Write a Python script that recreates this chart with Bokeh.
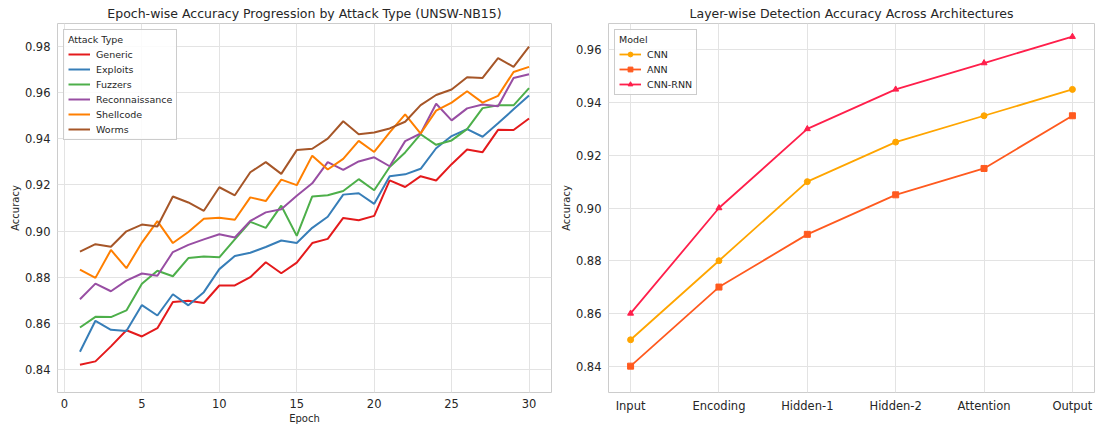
from bokeh.plotting import figure
from bokeh.layouts import row
from bokeh.models import Legend, LegendItem, FixedTicker, Range1d, CustomJSTickFormatter
from bokeh.embed import file_html
from bokeh.resources import INLINE

# ---------------- data ----------------
epochs = list(range(1, 31))
generic = [0.842, 0.8435, 0.850, 0.857, 0.8543, 0.8579, 0.8692, 0.8698, 0.8688, 0.8764,
           0.8764, 0.880, 0.8865, 0.8817, 0.8863, 0.8948, 0.8966, 0.9057, 0.9047, 0.9066,
           0.922, 0.9191, 0.9238, 0.9219, 0.929, 0.9354, 0.9342, 0.9439, 0.9438, 0.9488]
exploits = [0.8477, 0.8611, 0.8572, 0.8567, 0.8679, 0.8634, 0.8726, 0.8678, 0.8735, 0.8835,
            0.8892, 0.8906, 0.8931, 0.8959, 0.8948, 0.9014, 0.9062, 0.9158, 0.9164, 0.9118,
            0.9238, 0.9246, 0.927, 0.9359, 0.9412, 0.9442, 0.9409, 0.9467, 0.9528, 0.9588]
fuzzers = [0.8582, 0.8628, 0.8627, 0.8656, 0.8772, 0.8828, 0.8804, 0.8883, 0.889, 0.8886,
           0.8964, 0.904, 0.9014, 0.911, 0.8979, 0.915, 0.9155, 0.9174, 0.9225, 0.9177,
           0.9278, 0.9341, 0.942, 0.9374, 0.9393, 0.9442, 0.9533, 0.9545, 0.9545, 0.962]
recon = [0.8704, 0.8772, 0.8739, 0.8785, 0.8816, 0.8806, 0.8909, 0.894, 0.8964, 0.8986,
         0.8972, 0.9044, 0.9081, 0.9095, 0.9153, 0.9207, 0.9299, 0.9265, 0.9302, 0.932,
         0.9281, 0.939, 0.9423, 0.9552, 0.948, 0.9532, 0.9549, 0.9541, 0.9664, 0.968]
shellcode = [0.8833, 0.8797, 0.8918, 0.8839, 0.895, 0.9043, 0.8948, 0.8996, 0.9053, 0.9058,
             0.9049, 0.9146, 0.913, 0.9223, 0.9199, 0.9327, 0.9267, 0.9313, 0.9391, 0.9343,
             0.9428, 0.9506, 0.9423, 0.9522, 0.9557, 0.9606, 0.9557, 0.9586, 0.969, 0.9712]
worms = [0.8911, 0.8943, 0.8932, 0.8999, 0.9028, 0.902, 0.915, 0.9124, 0.9088, 0.919,
         0.9155, 0.9255, 0.9299, 0.9248, 0.9351, 0.9357, 0.9401, 0.9476, 0.942, 0.9427,
         0.9445, 0.9474, 0.9546, 0.959, 0.9614, 0.9667, 0.9664, 0.975, 0.9712, 0.98]
attack_names = ["Generic", "Exploits", "Fuzzers", "Reconnaissance", "Shellcode", "Worms"]
attack_series = [generic, exploits, fuzzers, recon, shellcode, worms]
attack_colors = ["#E41A1C", "#377EB8", "#4DAF4A", "#984EA3", "#FF7F00", "#A65628"]
epoch_ticks = [0, 5, 10, 15, 20, 25, 30]
left_yticks = [0.84, 0.86, 0.88, 0.90, 0.92, 0.94, 0.96, 0.98]

layers = ["Input", "Encoding", "Hidden-1", "Hidden-2", "Attention", "Output"]
cnn = [0.85, 0.88, 0.91, 0.925, 0.935, 0.945]
ann = [0.84, 0.87, 0.89, 0.905, 0.915, 0.935]
cnn_rnn = [0.86, 0.90, 0.93, 0.945, 0.955, 0.965]
model_names = ["CNN", "ANN", "CNN-RNN"]
model_series = [cnn, ann, cnn_rnn]
model_colors = ["#FFA500", "#FF5A1F", "#FF1F4B"]
model_markers = ["circle", "square", "triangle"]
right_yticks = [0.84, 0.86, 0.88, 0.90, 0.92, 0.94, 0.96]

FONT = "DejaVu Sans"
TXT = "#262626"
GRID = "#e3e3e3"
FRAME = "#cccccc"


def style(p, xlabel, ylabel):
    p.title.text_font = FONT
    p.title.text_font_size = "12.5px"
    p.title.text_font_style = "normal"
    p.title.text_color = TXT
    p.title.align = "center"
    p.title.standoff = 6
    p.outline_line_color = FRAME
    p.outline_line_width = 1
    for ax in (p.xaxis[0], p.yaxis[0]):
        ax.axis_line_color = None
        ax.major_tick_line_color = None
        ax.minor_tick_line_color = None
        ax.major_tick_out = 0
        ax.major_tick_in = 0
        ax.minor_tick_out = 0
        ax.minor_tick_in = 0
        ax.major_label_text_font = FONT
        ax.major_label_text_font_size = "11.5px"
        ax.major_label_text_color = TXT
        ax.axis_label_text_font = FONT
        ax.axis_label_text_font_size = "10px"
        ax.axis_label_text_font_style = "normal"
        ax.axis_label_text_color = TXT
    if xlabel:
        p.xaxis[0].axis_label = xlabel
    p.yaxis[0].axis_label = ylabel
    p.xaxis[0].major_label_standoff = 6
    p.xaxis[0].axis_label_standoff = 2
    p.yaxis[0].major_label_standoff = 7
    p.yaxis[0].axis_label_standoff = 1
    p.xgrid.grid_line_color = GRID
    p.ygrid.grid_line_color = GRID
    p.background_fill_color = "white"
    p.border_fill_color = "white"


def style_legend(lg, title):
    lg.title = title
    lg.title_text_font = FONT
    lg.title_text_font_size = "9.5px"
    lg.title_text_font_style = "normal"
    lg.title_text_color = TXT
    lg.title_standoff = 3
    lg.label_text_font = FONT
    lg.label_text_font_size = "9.5px"
    lg.label_text_color = TXT
    lg.label_height = 12
    lg.glyph_height = 12
    lg.glyph_width = 22
    lg.label_standoff = 6
    lg.spacing = 3
    lg.padding = 4
    lg.margin = 6
    lg.border_line_color = "#cccccc"
    lg.border_line_alpha = 1.0
    lg.background_fill_alpha = 0.85
    lg.location = "top_left"


H = 427

# ---------------- left chart ----------------
p1 = figure(width=554, height=H, output_backend="svg", toolbar_location=None,
            title="Epoch-wise Accuracy Progression by Attack Type (UNSW-NB15)",
            x_range=Range1d(-0.45, 31.45), y_range=Range1d(0.83, 0.99),
            min_border_left=57, min_border_right=3, min_border_top=0, min_border_bottom=35)
style(p1, "Epoch", "Accuracy")
p1.xaxis[0].ticker = FixedTicker(ticks=epoch_ticks)
p1.yaxis[0].ticker = FixedTicker(ticks=left_yticks)
p1.yaxis[0].formatter = CustomJSTickFormatter(code="return tick.toFixed(2);")
items1 = []
for name, ys, col in zip(attack_names, attack_series, attack_colors):
    r = p1.line(epochs, ys, line_color=col, line_width=2)
    items1.append(LegendItem(label=name, renderers=[r]))
lg1 = Legend(items=items1)
style_legend(lg1, "Attack Type")
p1.add_layout(lg1, "center")

# ---------------- right chart ----------------
xs = list(range(len(layers)))
p2 = figure(width=546, height=H, output_backend="svg", toolbar_location=None,
            title="Layer-wise Detection Accuracy Across Architectures",
            x_range=Range1d(-0.25, 5.25), y_range=Range1d(0.83, 0.97),
            min_border_left=54, min_border_right=6, min_border_top=0, min_border_bottom=35)
style(p2, "", "Accuracy")
p2.xaxis[0].ticker = FixedTicker(ticks=xs)
p2.xaxis[0].major_label_overrides = {i: n for i, n in enumerate(layers)}
p2.yaxis[0].ticker = FixedTicker(ticks=right_yticks)
p2.yaxis[0].formatter = CustomJSTickFormatter(code="return tick.toFixed(2);")
items2 = []
for name, ys, col, mk in zip(model_names, model_series, model_colors, model_markers):
    rl = p2.line(xs, ys, line_color=col, line_width=1.8)
    rs = p2.scatter(xs, ys, marker=mk, size=6, fill_color=col, line_color=col)
    items2.append(LegendItem(label=name, renderers=[rl, rs]))
lg2 = Legend(items=items2)
style_legend(lg2, "Model")
p2.add_layout(lg2, "center")

layout = row(p1, p2, spacing=0)
open("out.html", "w").write(file_html(layout, INLINE))
